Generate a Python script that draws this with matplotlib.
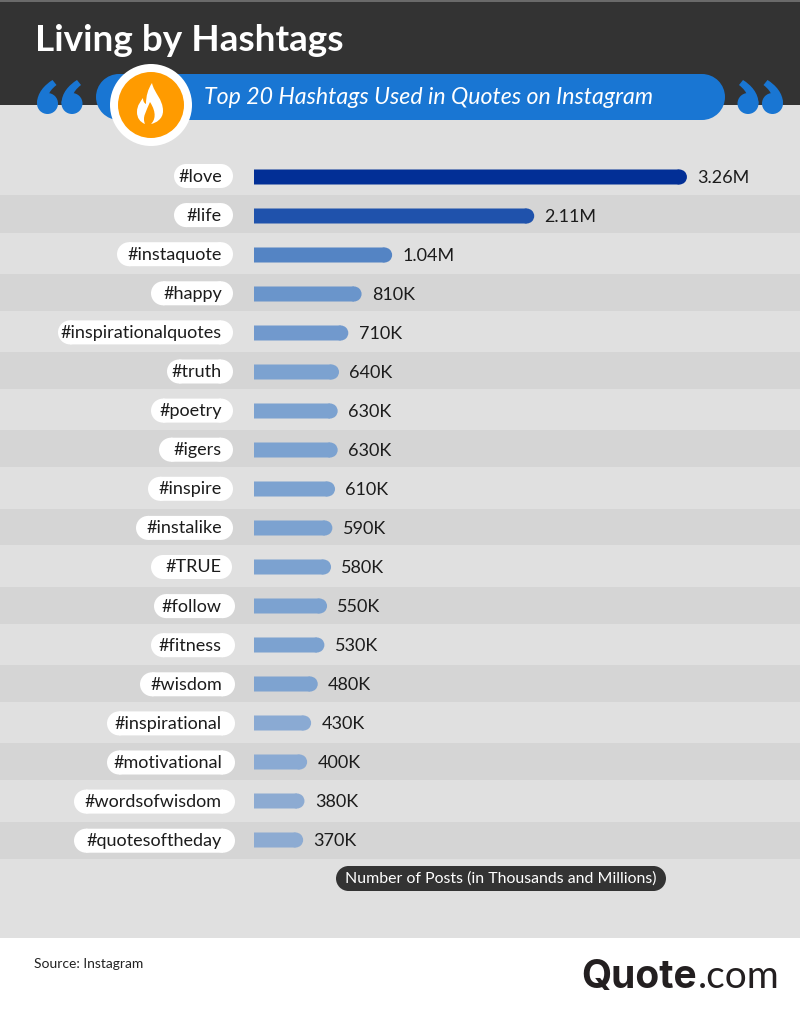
import matplotlib
matplotlib.use("Agg")
import matplotlib.pyplot as plt
from matplotlib.patches import Rectangle, Circle, Ellipse, PathPatch
from matplotlib.path import Path

tags = ["#love", "#life", "#instaquote", "#happy", "#inspirationalquotes", "#truth",
        "#poetry", "#igers", "#inspire", "#instalike", "#TRUE", "#follow", "#fitness",
        "#wisdom", "#inspirational", "#motivational", "#wordsofwisdom", "#quotesoftheday"]
posts_k = [3260, 2110, 1040, 810, 710, 640, 630, 630, 610, 590, 580, 550, 530, 480,
           430, 400, 380, 370]
value_labels = ["3.26M", "2.11M", "1.04M", "810K", "710K", "640K", "630K", "630K", "610K",
                "590K", "580K", "550K", "530K", "480K", "430K", "400K", "380K", "370K"]
bar_colors = ["#022f96", "#1f52ac", "#5484c4", "#6a95cb", "#7199cd", "#7ca2d0", "#7ca2d0",
              "#7ca2d0", "#7ca2d0", "#7ca2d0", "#7ca2d0", "#7ca2d0", "#7ca2d0", "#7ea3d0",
              "#8aaad3", "#8aaad3", "#8dabd2", "#8dabd2"]
stripes = [(195, 233), (274, 311), (352, 389), (430, 467), (509, 545), (587, 624),
           (665, 702), (743, 780), (822, 859)]
pill_left = [174, 174, 117, 151, 58, 167, 151, 159, 148, 136, 151, 154, 151, 140, 107, 107,
             74, 74]
pill_right = [233, 233, 233, 233, 233, 233, 233, 233, 233, 233, 232, 235, 235, 235, 235, 235,
              235, 235]

FONT = "Lato"
W, H = 800, 1015
BLUE = "#1976d3"
DARK = "#333333"

fig = plt.figure(figsize=(W / 100, H / 100), dpi=100, facecolor="white")
bg = fig.add_axes([0, 0, 1, 1], zorder=1)
bg.set_xlim(0, W)
bg.set_ylim(H, 0)
bg.axis("off")


def capsule(left, right, top, bottom, color, zorder=1):
    r = (bottom - top) / 2
    cy = (top + bottom) / 2
    bg.add_patch(Rectangle((left + r, top), right - left - 2 * r, bottom - top, fc=color,
                           ec="none", zorder=zorder, snap=False))
    bg.add_patch(Circle((left + r, cy), r, fc=color, ec="none", zorder=zorder))
    bg.add_patch(Circle((right - r, cy), r, fc=color, ec="none", zorder=zorder))


# Bands
bg.add_patch(Rectangle((0, 105), W, 833, fc="#e0e0e0", ec="none"))
bg.add_patch(Rectangle((0, 0), W, 105, fc=DARK, ec="none"))
bg.add_patch(Rectangle((0, 0), W, 1.5, fc="#6a6a6a", ec="none"))
for top, bottom in stripes:
    bg.add_patch(Rectangle((0, top), W, bottom - top, fc="#d5d5d5", ec="none"))

bg.text(35, 40, "Living by Hashtags", color="white", fontsize=26.6, fontweight="bold",
        family=FONT, ha="left", va="center")

# Subtitle pill
capsule(96, 725, 74, 120, BLUE, zorder=2)
bg.text(204, 97, "Top 20 Hashtags Used in Quotes on Instagram", color="white", fontsize=16.7,
        style="italic", family=FONT, ha="left", va="center", zorder=3)
bg.add_patch(Circle((151, 105), 41, fc="white", ec="none", zorder=3))
bg.add_patch(Circle((151, 105), 33, fc="#ff9b00", ec="none", zorder=4))

# Flame icon
C4 = Path.CURVE4
flame = [
    (Path.MOVETO, (152, 83)),
    (C4, (154, 93)), (C4, (163, 99)), (C4, (163, 111)),
    (C4, (163, 119)), (C4, (156, 123)), (C4, (151, 124)),
    (C4, (155, 120)), (C4, (157, 113)), (C4, (150, 102)),
    (C4, (146, 112)), (C4, (142, 117)), (C4, (145, 124)),
    (C4, (140, 122)), (C4, (137, 118)), (C4, (137, 112)),
    (C4, (137, 105)), (C4, (141, 101)), (C4, (143, 98)),
    (C4, (143, 101)), (C4, (144, 103)), (C4, (146, 104)),
    (C4, (146, 96)), (C4, (148, 89)), (C4, (152, 83)),
    (Path.CLOSEPOLY, (152, 83)),
]
bg.add_patch(PathPatch(Path([p for _, p in flame], [c for c, _ in flame]), fc="white",
                       ec="none", zorder=5))


# Quote marks
def quote_mark(cx, mirror=False):
    def tx(x):
        return 2 * cx - x if mirror else x
    bg.add_patch(Circle((cx, 103.5), 10.5, fc=BLUE, ec="none", zorder=2))
    verts = [(tx(cx - 10.5), 103.5), (tx(cx - 10.5), 93), (tx(cx - 3), 85), (tx(cx + 5), 80),
             (tx(cx + 9), 85), (tx(cx + 4), 89), (tx(cx + 2), 92), (tx(cx + 1), 95),
             (tx(cx + 1), 103.5), (tx(cx - 10.5), 103.5)]
    codes = [Path.MOVETO, C4, C4, C4, Path.LINETO, C4, C4, C4, Path.LINETO, Path.CLOSEPOLY]
    bg.add_patch(PathPatch(Path(verts, codes), fc=BLUE, ec="none", zorder=2))


for c in (47.5, 72):
    quote_mark(c)
for c in (748, 772.5):
    quote_mark(c, mirror=True)

# Bars
PX_PER_K = 0.1328
X0 = 254
ROW0 = 177
ROW = 39
PILL_ROW = 39.1
XMAX = 4000
n = len(tags)
top_px = ROW0 - ROW / 2
bot_px = ROW0 + ROW * (n - 1) + ROW / 2
ax = fig.add_axes([X0 / W, 1 - bot_px / H, XMAX * PX_PER_K / W, (bot_px - top_px) / H], zorder=2)
ax.patch.set_alpha(0)
ax.set_xlim(0, XMAX)
ax.set_ylim(n - 0.5, -0.5)
ax.axis("off")

BAR_PX = 15
bar_h = BAR_PX / ROW
r_k = (BAR_PX / 2) / PX_PER_K
rows = list(range(n))
bars = ax.barh(rows, [v - r_k for v in posts_k], height=bar_h, color=bar_colors, linewidth=0)
for b in bars:
    b.set_snap(False)
for i, v in enumerate(posts_k):
    ax.add_patch(Ellipse((v - r_k, i), 2 * r_k, bar_h, fc=bar_colors[i], ec="none", snap=False))
    ax.annotate(value_labels[i], (v, i), xytext=(7.5, -0.8), textcoords="offset points",
                ha="left", va="center", fontsize=13, color="#1c1c1c", family=FONT)

# Tag pills
for i, tag in enumerate(tags):
    cy = ROW0 - 1 + PILL_ROW * i
    capsule(pill_left[i], pill_right[i], cy - 12, cy + 12, "white", zorder=3)
    bg.text(222, cy + 0.5, tag, ha="right", va="center", fontsize=13, color="#1c1c1c",
            family=FONT, zorder=4)

# Axis caption
capsule(336, 666, 866, 891, DARK)
bg.text(501, 878.7, "Number of Posts (in Thousands and Millions)", color="white", fontsize=11.4,
        family=FONT, ha="center", va="center")

# Footer
bg.text(34, 964, "Source: Instagram", color="#222222", fontsize=10, family=FONT,
        ha="left", va="center")
bg.text(581, 977, "Quote", color="#231f20", fontsize=28, fontweight="bold", family="Inter",
        ha="left", va="center")
bg.text(780, 977, ".com", color="#231f20", fontsize=28, family="Lato", ha="right", va="center")

fig.savefig("out.png", dpi=100, facecolor="white")
